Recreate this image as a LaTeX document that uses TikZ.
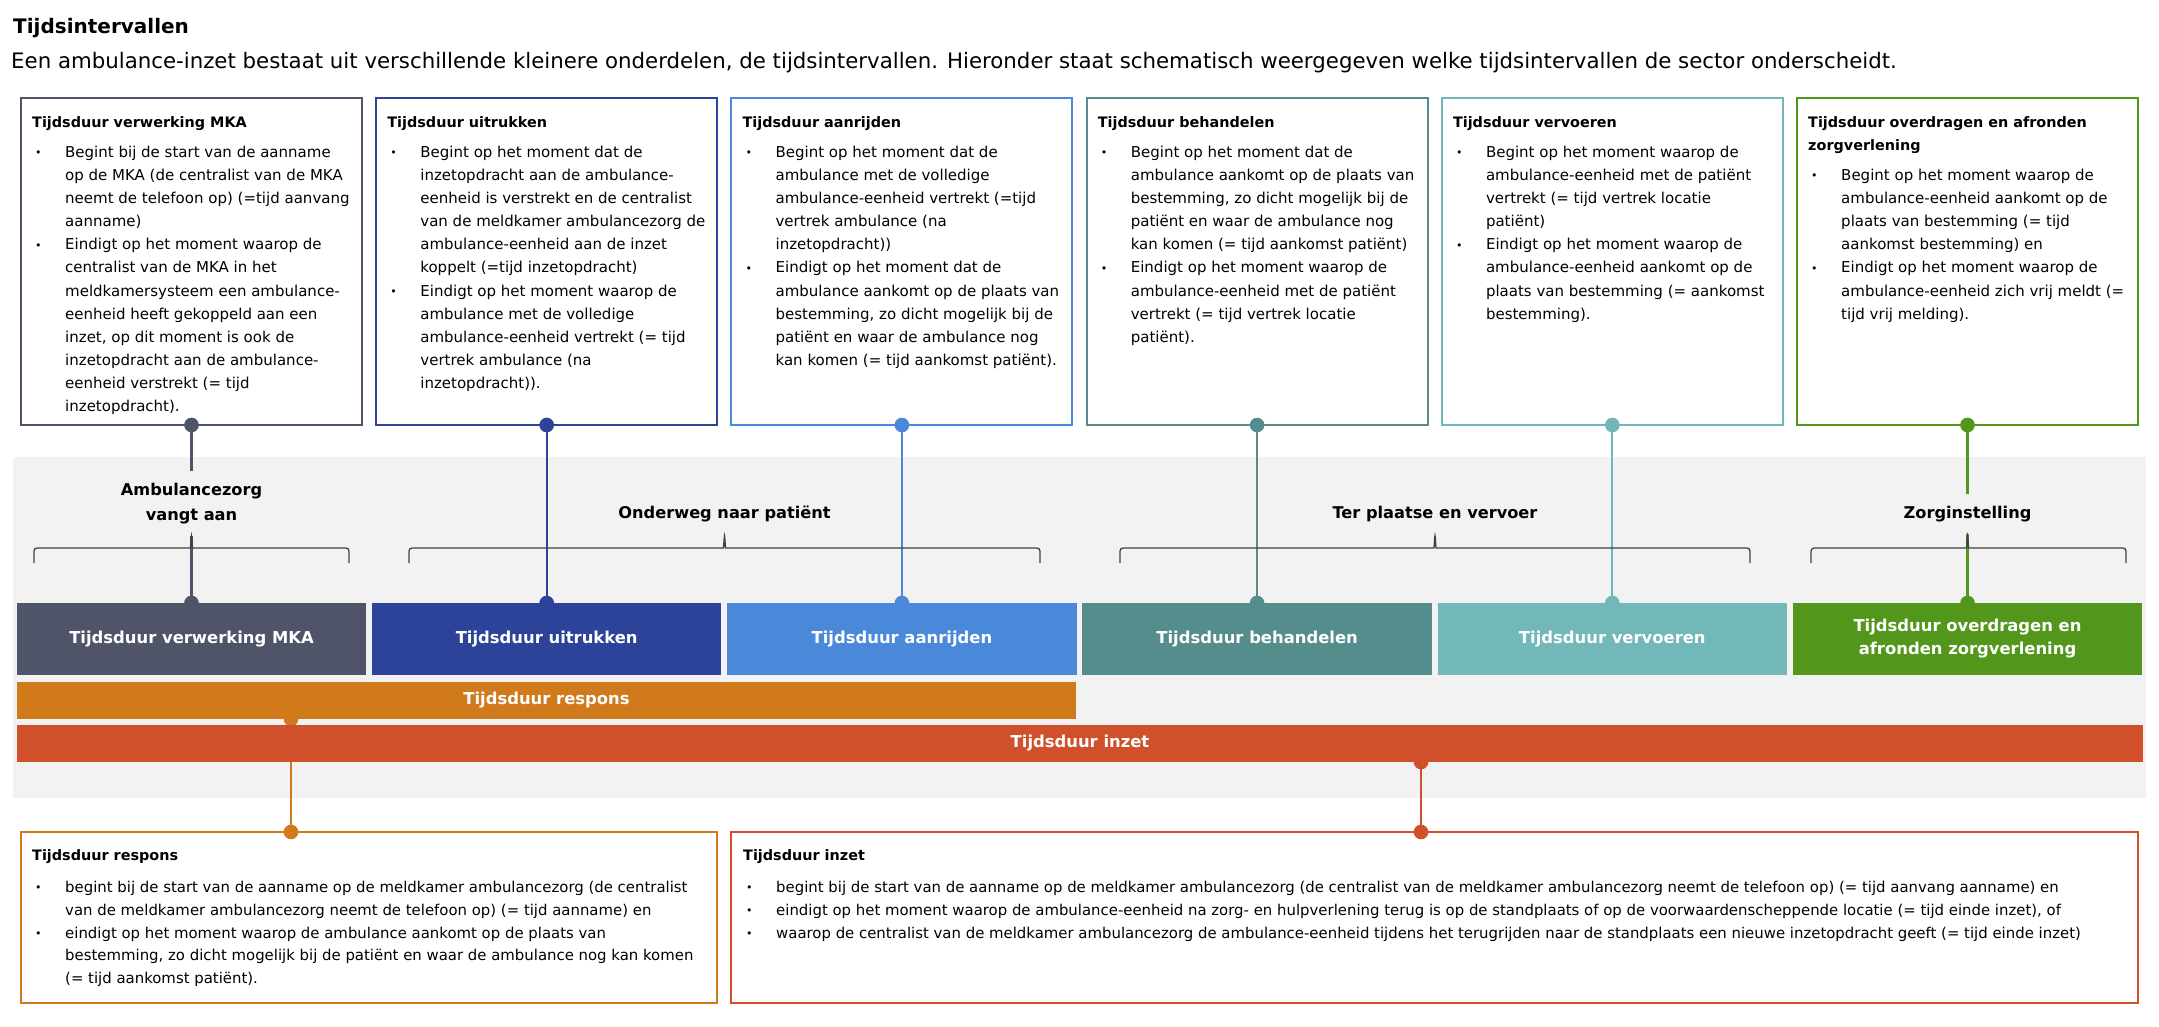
\documentclass[tikz,border=0pt]{standalone}
\usepackage{fontspec}
\setmainfont{DejaVu Sans}
\usetikzlibrary{positioning}
\usetikzlibrary{arrows.meta}
\definecolor{mka}{HTML}{4F5469}
\definecolor{uitrukken}{HTML}{2C4399}
\definecolor{aanrijden}{HTML}{4A89D9}
\definecolor{behandelen}{HTML}{558D8C}
\definecolor{vervoeren}{HTML}{72B8B8}
\definecolor{overdragen}{HTML}{52971C}
\definecolor{respons}{HTML}{D17A1C}
\definecolor{inzet}{HTML}{D0502C}
\definecolor{band}{HTML}{F2F2F2}
\definecolor{bracecol}{HTML}{404040}

\pgfdeclarelayer{back}
\pgfdeclarelayer{mid}
\pgfsetlayers{back,mid,main}

\newcommand{\bodyfont}{\fontsize{15}{23.15}\selectfont}
\newcommand{\lowfont}{\fontsize{14.9}{22.9}\selectfont}
\newcommand{\hd}[1]{{\bfseries\fontsize{14.4}{23}\selectfont\rule{0pt}{11pt}#1}}
\newcommand{\bul}{\hspace*{3pt}\makebox[30pt][l]{\fontsize{11}{11}\selectfont\raisebox{0.5pt}{•}}}
\newcommand{\ind}{\hspace*{33pt}}

\begin{document}
\begin{tikzpicture}[%
  x=1pt, y=-1pt,
  descbox/.style={draw=#1, line width=2pt, fill=white, minimum width=341, minimum height=327, anchor=north west, inner sep=0, outer sep=0},
  lowbox/.style={draw=#1, line width=2pt, fill=white, minimum height=171, anchor=north west, inner sep=0, outer sep=0},
  desctext/.style={anchor=north west, inner sep=0, align=left, font=\bodyfont},
  lowtext/.style={anchor=north west, inner sep=0, align=left, font=\lowfont},
  phase/.style={fill=#1, text=white, font=\bfseries\fontsize{16.4}{23}\selectfont, minimum width=349.5, minimum height=72, anchor=north west, inner sep=0, outer sep=0, align=center},
  span/.style={fill=#1, text=white, font=\bfseries\fontsize{16.4}{23}\selectfont, minimum height=37, anchor=north west, inner sep=0, outer sep=0},
  group/.style={font=\bfseries\fontsize{16.2}{25}\selectfont, align=center, inner xsep=4, inner ysep=12, outer sep=0},
  grpbrace/.style={draw=bracecol, line width=1.3pt, rounded corners=3pt},
  link/.style={draw=#1, line width=2.2pt},
  bothdots/.style={{Circle[length=14.6pt]}-{Circle[length=14.6pt]}, shorten <=-7.3pt, shorten >=-7.3pt},
  startdot/.style={{Circle[length=14.6pt]}-, shorten <=-7.3pt},
  enddot/.style={-{Circle[length=14.6pt]}, shorten >=-7.3pt},
]

  \useasboundingbox (0,0) rectangle (2159,1026);

  \node[anchor=base west, inner sep=0, font=\bfseries\fontsize{20}{24}\selectfont] (title) at (13,33) {Tijdsintervallen};
  \node[anchor=base west, inner sep=0, font=\fontsize{21.3}{25}\selectfont] (intro) at (11,68) {Een ambulance-inzet bestaat uit verschillende kleinere onderdelen, de tijdsintervallen. Hieronder staat schematisch weergegeven welke tijdsintervallen de sector onderscheidt.};

  \begin{pgfonlayer}{back}
  \fill[white] (0,0) rectangle (2159,1026);
  \fill[band] (13,457) rectangle (2146,798);

  % descriptions above
  \node[descbox=mka] (d1) at (21,98) {};
  \node[desctext] (t1) at (32,116) {\hd{Tijdsduur verwerking MKA}\\[6.85pt]
    \bul Begint bij de start van de aanname\\
    \ind op de MKA (de centralist van de MKA\\
    \ind neemt de telefoon op) (=tijd aanvang\\
    \ind aanname)\\
    \bul Eindigt op het moment waarop de\\
    \ind centralist van de MKA in het\\
    \ind meldkamersysteem een ambulance-\\
    \ind eenheid heeft gekoppeld aan een\\
    \ind inzet, op dit moment is ook de\\
    \ind inzetopdracht aan de ambulance-\\
    \ind eenheid verstrekt (= tijd\\
    \ind inzetopdracht).};

  \node[descbox=uitrukken] (d2) at (376.2,98) {};
  \node[desctext] (t2) at (387.2,116) {\hd{Tijdsduur uitrukken}\\[6.85pt]
    \bul Begint op het moment dat de\\
    \ind inzetopdracht aan de ambulance-\\
    \ind eenheid is verstrekt en de centralist\\
    \ind van de meldkamer ambulancezorg de\\
    \ind ambulance-eenheid aan de inzet\\
    \ind koppelt (=tijd inzetopdracht)\\
    \bul Eindigt op het moment waarop de\\
    \ind ambulance met de volledige\\
    \ind ambulance-eenheid vertrekt (= tijd\\
    \ind vertrek ambulance (na\\
    \ind inzetopdracht)).};

  \node[descbox=aanrijden] (d3) at (731.4,98) {};
  \node[desctext] (t3) at (742.4,116) {\hd{Tijdsduur aanrijden}\\[6.85pt]
    \bul Begint op het moment dat de\\
    \ind ambulance met de volledige\\
    \ind ambulance-eenheid vertrekt (=tijd\\
    \ind vertrek ambulance (na\\
    \ind inzetopdracht))\\
    \bul Eindigt op het moment dat de\\
    \ind ambulance aankomt op de plaats van\\
    \ind bestemming, zo dicht mogelijk bij de\\
    \ind patiënt en waar de ambulance nog\\
    \ind kan komen (= tijd aankomst patiënt).};

  \node[descbox=behandelen] (d4) at (1086.6,98) {};
  \node[desctext] (t4) at (1097.6,116) {\hd{Tijdsduur behandelen}\\[6.85pt]
    \bul Begint op het moment dat de\\
    \ind ambulance aankomt op de plaats van\\
    \ind bestemming, zo dicht mogelijk bij de\\
    \ind patiënt en waar de ambulance nog\\
    \ind kan komen (= tijd aankomst patiënt)\\
    \bul Eindigt op het moment waarop de\\
    \ind ambulance-eenheid met de patiënt\\
    \ind vertrekt (= tijd vertrek locatie\\
    \ind patiënt).};

  \node[descbox=vervoeren] (d5) at (1441.8,98) {};
  \node[desctext] (t5) at (1452.8,116) {\hd{Tijdsduur vervoeren}\\[6.85pt]
    \bul Begint op het moment waarop de\\
    \ind ambulance-eenheid met de patiënt\\
    \ind vertrekt (= tijd vertrek locatie\\
    \ind patiënt)\\
    \bul Eindigt op het moment waarop de\\
    \ind ambulance-eenheid aankomt op de\\
    \ind plaats van bestemming (= aankomst\\
    \ind bestemming).};

  \node[descbox=overdragen] (d6) at (1797,98) {};
  \node[desctext] (t6) at (1808,116) {\hd{Tijdsduur overdragen en afronden}\\
    \hd{zorgverlening}\\[6.85pt]
    \bul Begint op het moment waarop de\\
    \ind ambulance-eenheid aankomt op de\\
    \ind plaats van bestemming (= tijd\\
    \ind aankomst bestemming) en\\
    \bul Eindigt op het moment waarop de\\
    \ind ambulance-eenheid zich vrij meldt (=\\
    \ind tijd vrij melding).};

  % descriptions below
  \node[lowbox=respons, minimum width=696] (e1) at (21,832) {};
  \node[lowtext] (t7) at (32,849) {\hd{Tijdsduur respons}\\[9.1pt]
    \bul begint bij de start van de aanname op de meldkamer ambulancezorg (de centralist\\
    \ind van de meldkamer ambulancezorg neemt de telefoon op) (= tijd aanname) en\\
    \bul eindigt op het moment waarop de ambulance aankomt op de plaats van\\
    \ind bestemming, zo dicht mogelijk bij de patiënt en waar de ambulance nog kan komen\\
    \ind (= tijd aankomst patiënt).};

  \node[lowbox=inzet, minimum width=1407] (e2) at (731,832) {};
  \node[lowtext] (t8) at (743,849) {\hd{Tijdsduur inzet}\\[9.1pt]
    \bul begint bij de start van de aanname op de meldkamer ambulancezorg (de centralist van de meldkamer ambulancezorg neemt de telefoon op) (= tijd aanvang aanname) en\\
    \bul eindigt op het moment waarop de ambulance-eenheid na zorg- en hulpverlening terug is op de standplaats of op de voorwaardenscheppende locatie (= tijd einde inzet), of\\
    \bul waarop de centralist van de meldkamer ambulancezorg de ambulance-eenheid tijdens het terugrijden naar de standplaats een nieuwe inzetopdracht geeft (= tijd einde inzet)};
  \end{pgfonlayer}

  % time line
  \node[phase=mka] (b1) at (16.75,603) {Tijdsduur verwerking MKA};
  \node[phase=uitrukken] (b2) at (371.95,603) {Tijdsduur uitrukken};
  \node[phase=aanrijden] (b3) at (727.15,603) {Tijdsduur aanrijden};
  \node[phase=behandelen] (b4) at (1082.35,603) {Tijdsduur behandelen};
  \node[phase=vervoeren] (b5) at (1437.55,603) {Tijdsduur vervoeren};
  \node[phase=overdragen] (b6) at (1792.75,603) {Tijdsduur overdragen en\\afronden zorgverlening};
  \node[span=respons, minimum width=1059] (b7) at (17,682) {Tijdsduur respons};
  \node[span=inzet, minimum width=2126] (b8) at (17,725) {Tijdsduur inzet};

  \coordinate (r1) at (291,719);
  \coordinate (z1) at (1421,762);

  % groups
  \node[group] (g1) at (191.5,503.5) {Ambulancezorg\\vangt aan};
  \node[group] (g2) at (724.5,514) {Onderweg naar patiënt};
  \node[group] (g3) at (1435,514) {Ter plaatse en vervoer};
  \node[group] (g4) at (1967.5,514) {Zorginstelling};

  \draw[grpbrace] (34,563) |- (187.5,548) .. controls (190.5,548) .. (191.5,534) .. controls (192.5,548) .. (195.5,548) -| (349,563);
  \draw[grpbrace] (409,563) |- (720.5,548) .. controls (723.5,548) .. (724.5,534) .. controls (725.5,548) .. (728.5,548) -| (1040,563);
  \draw[grpbrace] (1120,563) |- (1431,548) .. controls (1434,548) .. (1435,534) .. controls (1436,548) .. (1439,548) -| (1750,563);
  \draw[grpbrace] (1811,563) |- (1963.5,548) .. controls (1966.5,548) .. (1967.5,534) .. controls (1968.5,548) .. (1971.5,548) -| (2126,563);

  \begin{pgfonlayer}{mid}
  \draw[link=mka, startdot] (d1.south) -- (g1.north);
  \draw[link=mka, enddot] (g1.south) -- (b1.north);
  \draw[link=uitrukken, bothdots] (d2.south) -- (b2.north);
  \draw[link=aanrijden, bothdots] (d3.south) -- (b3.north);
  \draw[link=behandelen, bothdots] (d4.south) -- (b4.north);
  \draw[link=vervoeren, bothdots] (d5.south) -- (b5.north);
  \draw[link=overdragen, startdot] (d6.south) -- (g4.north);
  \draw[link=overdragen, enddot] (g4.south) -- (b6.north);
  \draw[link=respons, bothdots] (r1) -- (r1 |- e1.north);
  \draw[link=inzet, bothdots] (z1) -- (z1 |- e2.north);
  \end{pgfonlayer}

\end{tikzpicture}
\end{document}
